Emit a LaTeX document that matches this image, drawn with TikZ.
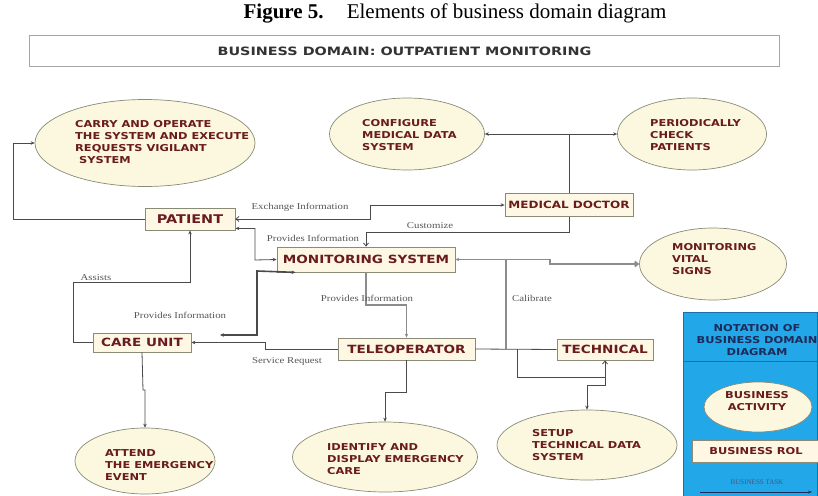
\documentclass[tikz,border=0pt]{standalone}
\usepackage{fontspec}
\setmainfont{Liberation Serif}
\newfontfamily\boxfont{DejaVu Sans}[FakeStretch=1.2]
\newfontfamily\headfont{DejaVu Sans}[FakeStretch=1.25]
\newfontfamily\lblfont{Liberation Serif}[FakeStretch=1.2]
\usetikzlibrary{arrows.meta,shapes.geometric,calc}
\definecolor{cream}{HTML}{FBF8DF}
\definecolor{boxfill}{HTML}{FDF7E4}
\definecolor{maroon}{HTML}{6A1B1B}
\definecolor{edge}{HTML}{8A8A78}
\definecolor{wire}{HTML}{4A4A4A}
\definecolor{fatwire}{HTML}{8C8C8C}
\definecolor{legblue}{HTML}{22A7E8}
\definecolor{legedge}{HTML}{1B6FA8}
\definecolor{navy}{HTML}{1E2A5A}
\definecolor{lblgray}{HTML}{555555}
\begin{document}
\begin{tikzpicture}[x=1pt,y=-1pt,
  act/.style={ellipse, draw=edge, fill=cream, line width=0.7pt, inner sep=0pt},
  rol/.style={rectangle, draw=edge, fill=boxfill, line width=0.8pt, inner sep=0pt,
    font=\boxfont\bfseries\fontsize{11.3}{13}\selectfont, text=maroon},
  acttxt/.style={align=left, anchor=west, inner sep=0pt, text=maroon,
    font=\boxfont\bfseries\fontsize{9.5}{11.7}\selectfont},
  wireline/.style={draw=wire, line width=0.8pt},
  fatline/.style={draw=fatwire, line width=1.8pt},
  thickline/.style={draw=wire, line width=1.6pt},
  lbl/.style={inner sep=0pt, text=lblgray, font=\lblfont\fontsize{9}{10}\selectfont},
  fill tip/.tip={Stealth[length=4pt,width=3.5pt]},
  open tip/.tip={Straight Barb[length=3pt,width=5pt]},
]
\useasboundingbox (0,0) rectangle (818,495);

% title and header
\node (title) at (455,13) {\fontsize{21}{24}\selectfont\textbf{Figure 5.}\hspace{1.1em}Elements of business domain diagram};
\node[draw=gray!70, line width=1pt, minimum width=750pt, minimum height=31pt, anchor=north west,
  inner sep=0pt, text=black!80, font=\headfont\bfseries\fontsize{11.5}{13}\selectfont] (hdr) at (29,35)
  {BUSINESS DOMAIN: OUTPATIENT MONITORING};

% business activities
\node[act, minimum width=220pt, minimum height=87pt] (e1) at (145,143) {};
\node[act, minimum width=155pt, minimum height=72pt] (e2) at (407,134) {};
\node[act, minimum width=149pt, minimum height=72pt] (e3) at (692,134) {};
\node[act, minimum width=147pt, minimum height=72pt] (e4) at (713,264) {};
\node[act, minimum width=140pt, minimum height=66pt] (e5) at (145,461) {};
\node[act, minimum width=185pt, minimum height=70pt] (e6) at (385,457) {};
\node[act, minimum width=180pt, minimum height=70pt] (e7) at (587,445) {};

\node[acttxt] (t1) at (75,142) {CARRY AND OPERATE\\THE SYSTEM AND EXECUTE\\REQUESTS VIGILANT\\\ SYSTEM};
\node[acttxt] (t2) at (362,135) {CONFIGURE\\MEDICAL DATA\\SYSTEM};
\node[acttxt] (t3) at (650,135) {PERIODICALLY\\CHECK\\PATIENTS};
\node[acttxt] (t4) at (672,259) {MONITORING\\VITAL\\SIGNS};
\node[acttxt] (t5) at (105,465) {ATTEND\\THE EMERGENCY\\EVENT};
\node[acttxt] (t6) at (327,459) {IDENTIFY AND\\DISPLAY EMERGENCY\\CARE};
\node[acttxt] (t7) at (532,445) {SETUP\\TECHNICAL DATA\\SYSTEM};

% business roles
\node[rol, minimum width=90pt, minimum height=22pt, font=\boxfont\bfseries\fontsize{12}{13}\selectfont] (pat) at (190,219) {PATIENT};
\node[rol, minimum width=128pt, minimum height=23pt, font=\boxfont\bfseries\fontsize{10}{12}\selectfont] (doc) at (569,205) {MEDICAL DOCTOR};
\node[rol, minimum width=178pt, minimum height=25pt] (mon) at (366,259.5) {MONITORING SYSTEM};
\node[rol, minimum width=98pt, minimum height=19pt] (care) at (142,342.5) {CARE UNIT};
\node[rol, minimum width=137pt, minimum height=22pt] (tele) at (406.5,349) {TELEOPERATOR};
\node[rol, minimum width=96pt, minimum height=21pt] (tech) at (605,349.5) {TECHNICAL};

% connectors
\coordinate (j1) at (569,134);
\coordinate (pfree) at (220,335);
\coordinate (jcal) at (506,349);
\coordinate (jtech) at (605,377);

\draw[wireline, -fill tip] (pat.west) -- ++(-131,0) |- (e1.west);
\draw[wireline, open tip-fill tip] (pat.east) -- (370,219) |- (doc.west);
\node[lbl] (lex) at (300,207) {Exchange Information};
\draw[wireline, -open tip] (doc.south) |- (366,232) -- (mon.north);
\node[lbl] (lcu) at (430,226) {Customize};
\draw[wireline] (doc.north) -- (j1);
\draw[wireline, -fill tip] (j1) -- (e2.east);
\draw[wireline, -fill tip] (j1) -- (e3.west);
\draw[wireline, fill tip-fill tip] ($(pat.south east)+(0,-2)$) -| (255,260) -- (mon.west);
\node[lbl] (lpi1) at (313,238) {Provides Information};
\draw[wireline, -fill tip] (care.west) -- (73,342.5) |- (190,282) -- (pat.south);
\node[lbl] (las) at (96,278) {Assists};
\draw[thickline, fill tip-fill tip] (pfree) -- (257,335) -- (257,271) -- ($(mon.south west)+(19,0)$);
\node[lbl] (lpi2) at (180,315) {Provides Information};
\draw[wireline, -fill tip] (tele.west) -- (265,349) -- (265,342.5) -- (care.east);
\node[lbl] (lsr) at (287,361) {Service Request};
\draw[fatline, -fill tip] (mon.south) -- (366,305) -| (tele.north);
\node[lbl] (lpi3) at (367,298) {Provides Information};
\draw[fatline, fill tip-open tip] (mon.east) -- (550,259.5) -- (550,264) -- (e4.west);
\draw[fatline] (506,259.5) -- (jcal);
\node[lbl] (lca) at (532,298) {Calibrate};
\draw[wireline] (tele.east) -- (tech.west);
\draw[wireline] (517,349) |- (jtech);
\draw[wireline, open tip-fill tip] (tech.south) -- (605,385) -| (e7.north);
\draw[wireline, -fill tip] (tele.south) -- (406.5,392) -| (e6.north);
\draw[wireline, -fill tip] (care.south) -- (143,390) -| (e5.north);

% legend
\node[draw=legedge, fill=legblue, line width=0.8pt, minimum width=134pt, minimum height=184pt,
  anchor=north west, inner sep=0pt] (leg) at (683,312) {};
\draw[legedge, line width=0.8pt] (leg.west |- 0,361) -- (leg.east |- 0,361);
\node[align=center, inner sep=0pt, text=navy, font=\boxfont\bfseries\fontsize{9.5}{11.7}\selectfont]
  (legt) at (757,340) {NOTATION OF\\BUSINESS DOMAIN\\DIAGRAM};
\node[act, minimum width=108pt, minimum height=50pt] (lact) at (758,407) {};
\node[align=center, inner sep=0pt, text=maroon, font=\boxfont\bfseries\fontsize{9.5}{11.7}\selectfont]
  (lactt) at (757,401) {BUSINESS\\ACTIVITY};
\node[rectangle, draw=edge, fill=boxfill, line width=0.8pt, minimum width=128pt, minimum height=22pt,
  inner sep=0pt, text=maroon, font=\boxfont\bfseries\fontsize{9.5}{11.7}\selectfont] (lrol) at (756,451) {BUSINESS ROL};
\node[inner sep=0pt, text=navy!80, font=\fontsize{7}{8}\selectfont] (ltask) at (757,482) {BUSINESS TASK};
\coordinate (la1) at (700,492);
\coordinate (la2) at (812,492);
\draw[navy, line width=0.7pt, -{Stealth[length=4pt,width=3pt]}] (la1) -- (la2);
\end{tikzpicture}
\end{document}
